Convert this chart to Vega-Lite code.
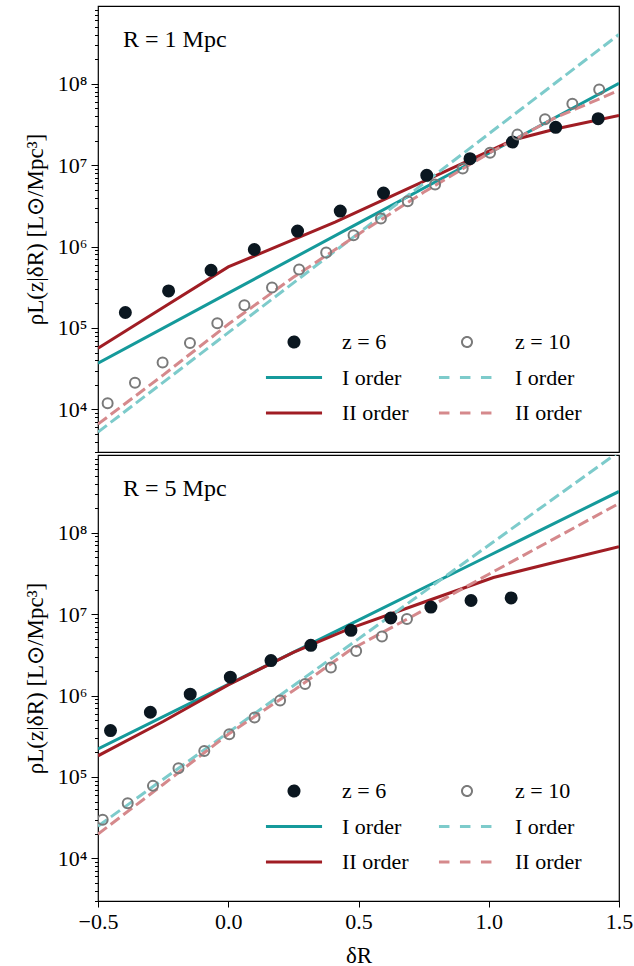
{
  "$schema": "https://vega.github.io/schema/vega-lite/v6.json",
  "padding": {"left": 23, "top": 5, "right": 5, "bottom": 5},
  "spacing": 0,
  "datasets": {
    "r1": [
      {"series": "z6", "delta": -0.395, "rho": 155000},
      {"series": "z6", "delta": -0.229, "rho": 285000},
      {"series": "z6", "delta": -0.066, "rho": 512000},
      {"series": "z6", "delta": 0.100, "rho": 920000},
      {"series": "z6", "delta": 0.266, "rho": 1550000},
      {"series": "z6", "delta": 0.430, "rho": 2730000},
      {"series": "z6", "delta": 0.596, "rho": 4550000},
      {"series": "z6", "delta": 0.762, "rho": 7500000},
      {"series": "z6", "delta": 0.928, "rho": 12000000},
      {"series": "z6", "delta": 1.091, "rho": 19200000},
      {"series": "z6", "delta": 1.257, "rho": 29100000},
      {"series": "z6", "delta": 1.420, "rho": 37200000},
      {"series": "z10", "delta": -0.463, "rho": 11900},
      {"series": "z10", "delta": -0.358, "rho": 21200},
      {"series": "z10", "delta": -0.252, "rho": 37800},
      {"series": "z10", "delta": -0.147, "rho": 65600},
      {"series": "z10", "delta": -0.042, "rho": 114000},
      {"series": "z10", "delta": 0.062, "rho": 190000},
      {"series": "z10", "delta": 0.168, "rho": 314000},
      {"series": "z10", "delta": 0.272, "rho": 522000},
      {"series": "z10", "delta": 0.376, "rho": 844000},
      {"series": "z10", "delta": 0.481, "rho": 1380000},
      {"series": "z10", "delta": 0.586, "rho": 2210000},
      {"series": "z10", "delta": 0.689, "rho": 3600000},
      {"series": "z10", "delta": 0.794, "rho": 5770000},
      {"series": "z10", "delta": 0.900, "rho": 9060000},
      {"series": "z10", "delta": 1.005, "rho": 14200000},
      {"series": "z10", "delta": 1.110, "rho": 23700000},
      {"series": "z10", "delta": 1.216, "rho": 36500000},
      {"series": "z10", "delta": 1.321, "rho": 56900000},
      {"series": "z10", "delta": 1.424, "rho": 85100000},
      {"series": "I_z6", "delta": -0.5, "rho": 37000},
      {"series": "I_z6", "delta": 0.0, "rho": 268000},
      {"series": "I_z6", "delta": 0.5, "rho": 1940000},
      {"series": "I_z6", "delta": 1.0, "rho": 14000000},
      {"series": "I_z6", "delta": 1.5, "rho": 101000000},
      {"series": "II_z6", "delta": -0.5, "rho": 56500},
      {"series": "II_z6", "delta": -0.25, "rho": 178000},
      {"series": "II_z6", "delta": 0.0, "rho": 562000},
      {"series": "II_z6", "delta": 0.41, "rho": 2000000},
      {"series": "II_z6", "delta": 0.75, "rho": 6300000},
      {"series": "II_z6", "delta": 1.09, "rho": 20200000},
      {"series": "II_z6", "delta": 1.26, "rho": 28000000},
      {"series": "II_z6", "delta": 1.5, "rho": 40800000},
      {"series": "I_z10", "delta": -0.5, "rho": 5270},
      {"series": "I_z10", "delta": 0.0, "rho": 87700},
      {"series": "I_z10", "delta": 0.5, "rho": 1460000},
      {"series": "I_z10", "delta": 1.0, "rho": 24200000},
      {"series": "I_z10", "delta": 1.5, "rho": 403000000},
      {"series": "II_z10", "delta": -0.5, "rho": 6600},
      {"series": "II_z10", "delta": -0.25, "rho": 26400},
      {"series": "II_z10", "delta": 0.0, "rho": 111000},
      {"series": "II_z10", "delta": 0.25, "rho": 420000},
      {"series": "II_z10", "delta": 0.5, "rho": 1420000},
      {"series": "II_z10", "delta": 0.75, "rho": 4640000},
      {"series": "II_z10", "delta": 1.0, "rho": 14000000},
      {"series": "II_z10", "delta": 1.25, "rho": 37500000},
      {"series": "II_z10", "delta": 1.5, "rho": 82800000}
    ],
    "r5": [
      {"series": "z6", "delta": -0.452, "rho": 372000},
      {"series": "z6", "delta": -0.299, "rho": 624000},
      {"series": "z6", "delta": -0.146, "rho": 1040000},
      {"series": "z6", "delta": 0.008, "rho": 1680000},
      {"series": "z6", "delta": 0.164, "rho": 2690000},
      {"series": "z6", "delta": 0.317, "rho": 4140000},
      {"series": "z6", "delta": 0.471, "rho": 6330000},
      {"series": "z6", "delta": 0.624, "rho": 8960000},
      {"series": "z6", "delta": 0.778, "rho": 12200000},
      {"series": "z6", "delta": 0.932, "rho": 14700000},
      {"series": "z6", "delta": 1.086, "rho": 15800000},
      {"series": "z10", "delta": -0.482, "rho": 29800},
      {"series": "z10", "delta": -0.386, "rho": 47700},
      {"series": "z10", "delta": -0.289, "rho": 77800},
      {"series": "z10", "delta": -0.191, "rho": 128000},
      {"series": "z10", "delta": -0.092, "rho": 209000},
      {"series": "z10", "delta": 0.004, "rho": 335000},
      {"series": "z10", "delta": 0.101, "rho": 537000},
      {"series": "z10", "delta": 0.199, "rho": 869000},
      {"series": "z10", "delta": 0.295, "rho": 1390000},
      {"series": "z10", "delta": 0.394, "rho": 2210000},
      {"series": "z10", "delta": 0.491, "rho": 3530000},
      {"series": "z10", "delta": 0.590, "rho": 5300000},
      {"series": "z10", "delta": 0.686, "rho": 8710000},
      {"series": "I_z6", "delta": -0.5, "rho": 221000},
      {"series": "I_z6", "delta": 0.0, "rho": 1370000},
      {"series": "I_z6", "delta": 0.5, "rho": 8430000},
      {"series": "I_z6", "delta": 1.0, "rho": 52100000},
      {"series": "I_z6", "delta": 1.5, "rho": 321000000},
      {"series": "II_z6", "delta": -0.5, "rho": 182000},
      {"series": "II_z6", "delta": -0.25, "rho": 480000},
      {"series": "II_z6", "delta": 0.0, "rho": 1350000},
      {"series": "II_z6", "delta": 0.25, "rho": 3400000},
      {"series": "II_z6", "delta": 0.468, "rho": 6680000},
      {"series": "II_z6", "delta": 0.75, "rho": 14000000},
      {"series": "II_z6", "delta": 1.018, "rho": 28200000},
      {"series": "II_z6", "delta": 1.25, "rho": 43100000},
      {"series": "II_z6", "delta": 1.5, "rho": 67300000},
      {"series": "I_z10", "delta": -0.5, "rho": 24900},
      {"series": "I_z10", "delta": 0.0, "rho": 352000},
      {"series": "I_z10", "delta": 0.5, "rho": 4970000},
      {"series": "I_z10", "delta": 1.0, "rho": 70200000},
      {"series": "I_z10", "delta": 1.5, "rho": 990000000},
      {"series": "II_z10", "delta": -0.5, "rho": 19900},
      {"series": "II_z10", "delta": -0.25, "rho": 81000},
      {"series": "II_z10", "delta": 0.0, "rho": 335000},
      {"series": "II_z10", "delta": 0.25, "rho": 1150000},
      {"series": "II_z10", "delta": 0.468, "rho": 3630000},
      {"series": "II_z10", "delta": 0.75, "rho": 11200000},
      {"series": "II_z10", "delta": 1.0, "rho": 30900000},
      {"series": "II_z10", "delta": 1.25, "rho": 84000000},
      {"series": "II_z10", "delta": 1.5, "rho": 229000000}
    ]
  },
  "vconcat": [
    {
      "width": 521,
      "height": 446,
      "title": {"text": "R = 1 Mpc", "frame": "group", "anchor": "start", "orient": "none", "offset": 0, "dx": 25, "dy": 41, "baseline": "alphabetic", "align": "left", "fontSize": 24, "fontWeight": "normal", "font": "Liberation Serif", "color": "black"},
      "data": {"name": "r1"},
      "encoding": {
        "x": {"field": "delta", "type": "quantitative", "scale": {"domain": [-0.5, 1.5], "nice": false, "zero": false}, "axis": null},
        "y": {"field": "rho", "type": "quantitative", "scale": {"type": "log", "domain": [3000, 900000000], "nice": false},
          "axis": {
            "title": "ρL(z|δR) [L⊙/Mpc³]",
            "values": [3000,4000,5000,6000,7000,8000,9000,10000,20000,30000,40000,50000,60000,70000,80000,90000,100000,200000,300000,400000,500000,600000,700000,800000,900000,1000000,2000000,3000000,4000000,5000000,6000000,7000000,8000000,9000000,10000000,20000000,30000000,40000000,50000000,60000000,70000000,80000000,90000000,100000000,200000000,300000000,400000000,500000000,600000000,700000000,800000000],
            "labelExpr": "abs(log(datum.value)/LN10 - round(log(datum.value)/LN10)) < 0.001 ? '10' + ['⁰','¹','²','³','⁴','⁵','⁶','⁷','⁸','⁹'][round(log(datum.value)/LN10)] : ''",
            "labelFontSize": {"condition": {"test": "abs(log(datum.value)/LN10 - round(log(datum.value)/LN10)) < 0.001", "value": 22}, "value": 0},
            "tickSize": {"condition": {"test": "abs(log(datum.value)/LN10 - round(log(datum.value)/LN10)) < 0.001", "value": 7}, "value": 3.5},
            "labelOverlap": false, "labelFlush": false, "labelPadding": 4, "titlePadding": 10
          }
        },
        "stroke": {"field": "series", "type": "nominal",
          "scale": {"domain": ["z6", "I_z6", "II_z6", "z10", "I_z10", "II_z10"], "range": ["#0b1720", "#159a9b", "#a01d24", "#7a7a7a", "#7dcbcb", "#d5898c"]},
          "legend": {
            "orient": "none", "legendX": 157, "legendY": 325, "title": null, "columns": 2,
            "labelExpr": "datum.value == 'z6' ? 'z = 6' : datum.value == 'z10' ? 'z = 10' : (indexof(datum.value, 'II') == 0 ? 'II order' : 'I order')",
            "labelFontSize": 22, "labelFont": "Liberation Serif", "labelColor": "black",
            "symbolSize": 121, "symbolOffset": 28, "labelOffset": 37,
            "columnPadding": 19, "rowPadding": 13.5, "padding": 0,
            "encode": {"symbols": {"update": {
              "shape": {"signal": "datum.value == 'z6' || datum.value == 'z10' ? 'circle' : 'M-5.1,0H5.1'"},
              "fill": {"signal": "datum.value == 'z6' ? '#0b1720' : 'transparent'"},
              "strokeWidth": {"signal": "datum.value == 'z6' || datum.value == 'z10' ? 2 : 3"},
              "strokeDash": {"signal": "indexof(datum.value, 'I_z10') >= 0 ? [10.5, 10.5] : [1, 0]"},
              "size": {"signal": "datum.value == 'z10' ? 100 : 121"},
              "opacity": {"value": 1}
            }}}
          }
        }
      },
      "layer": [
        {"transform": [{"filter": "datum.series == 'I_z6' || datum.series == 'II_z6'"}], "mark": {"type": "line", "strokeWidth": 3, "clip": true}},
        {"transform": [{"filter": "datum.series == 'I_z10' || datum.series == 'II_z10'"}], "mark": {"type": "line", "strokeWidth": 3, "strokeDash": [11.1, 4.8], "clip": true}},
        {"transform": [{"filter": "datum.series == 'z6' || datum.series == 'z10'"}], "mark": {"type": "point", "shape": "circle", "strokeWidth": 2, "opacity": 1, "clip": true},
          "encoding": {
            "fill": {"condition": {"test": "datum.series == 'z6'", "value": "#0b1720"}, "value": "transparent"},
            "size": {"condition": {"test": "datum.series == 'z6'", "value": 121}, "value": 100}
          }
        }
      ]
    },
    {
      "width": 521,
      "height": 446,
      "title": {"text": "R = 5 Mpc", "frame": "group", "anchor": "start", "orient": "none", "offset": 0, "dx": 25, "dy": 41, "baseline": "alphabetic", "align": "left", "fontSize": 24, "fontWeight": "normal", "font": "Liberation Serif", "color": "black"},
      "data": {"name": "r5"},
      "encoding": {
        "x": {"field": "delta", "type": "quantitative", "scale": {"domain": [-0.5, 1.5], "nice": false, "zero": false},
          "axis": {"values": [-0.5, 0, 0.5, 1, 1.5], "format": ".1f", "title": "δR", "tickSize": 6, "labelPadding": 4, "titlePadding": 12, "labelFlush": false}
        },
        "y": {"field": "rho", "type": "quantitative", "scale": {"type": "log", "domain": [3000, 900000000], "nice": false},
          "axis": {
            "title": "ρL(z|δR) [L⊙/Mpc³]",
            "values": [3000,4000,5000,6000,7000,8000,9000,10000,20000,30000,40000,50000,60000,70000,80000,90000,100000,200000,300000,400000,500000,600000,700000,800000,900000,1000000,2000000,3000000,4000000,5000000,6000000,7000000,8000000,9000000,10000000,20000000,30000000,40000000,50000000,60000000,70000000,80000000,90000000,100000000,200000000,300000000,400000000,500000000,600000000,700000000,800000000],
            "labelExpr": "abs(log(datum.value)/LN10 - round(log(datum.value)/LN10)) < 0.001 ? '10' + ['⁰','¹','²','³','⁴','⁵','⁶','⁷','⁸','⁹'][round(log(datum.value)/LN10)] : ''",
            "labelFontSize": {"condition": {"test": "abs(log(datum.value)/LN10 - round(log(datum.value)/LN10)) < 0.001", "value": 22}, "value": 0},
            "tickSize": {"condition": {"test": "abs(log(datum.value)/LN10 - round(log(datum.value)/LN10)) < 0.001", "value": 7}, "value": 3.5},
            "labelOverlap": false, "labelFlush": false, "labelPadding": 4, "titlePadding": 10
          }
        },
        "stroke": {"field": "series", "type": "nominal",
          "scale": {"domain": ["z6", "I_z6", "II_z6", "z10", "I_z10", "II_z10"], "range": ["#0b1720", "#159a9b", "#a01d24", "#7a7a7a", "#7dcbcb", "#d5898c"]},
          "legend": {
            "orient": "none", "legendX": 157, "legendY": 325, "title": null, "columns": 2,
            "labelExpr": "datum.value == 'z6' ? 'z = 6' : datum.value == 'z10' ? 'z = 10' : (indexof(datum.value, 'II') == 0 ? 'II order' : 'I order')",
            "labelFontSize": 22, "labelFont": "Liberation Serif", "labelColor": "black",
            "symbolSize": 121, "symbolOffset": 28, "labelOffset": 37,
            "columnPadding": 19, "rowPadding": 13.5, "padding": 0,
            "encode": {"symbols": {"update": {
              "shape": {"signal": "datum.value == 'z6' || datum.value == 'z10' ? 'circle' : 'M-5.1,0H5.1'"},
              "fill": {"signal": "datum.value == 'z6' ? '#0b1720' : 'transparent'"},
              "strokeWidth": {"signal": "datum.value == 'z6' || datum.value == 'z10' ? 2 : 3"},
              "strokeDash": {"signal": "indexof(datum.value, 'I_z10') >= 0 ? [10.5, 10.5] : [1, 0]"},
              "size": {"signal": "datum.value == 'z10' ? 100 : 121"},
              "opacity": {"value": 1}
            }}}
          }
        }
      },
      "layer": [
        {"transform": [{"filter": "datum.series == 'I_z6' || datum.series == 'II_z6'"}], "mark": {"type": "line", "strokeWidth": 3, "clip": true}},
        {"transform": [{"filter": "datum.series == 'I_z10' || datum.series == 'II_z10'"}], "mark": {"type": "line", "strokeWidth": 3, "strokeDash": [11.1, 4.8], "clip": true}},
        {"transform": [{"filter": "datum.series == 'z6' || datum.series == 'z10'"}], "mark": {"type": "point", "shape": "circle", "strokeWidth": 2, "opacity": 1, "clip": true},
          "encoding": {
            "fill": {"condition": {"test": "datum.series == 'z6'", "value": "#0b1720"}, "value": "transparent"},
            "size": {"condition": {"test": "datum.series == 'z6'", "value": 121}, "value": 100}
          }
        }
      ]
    }
  ],
  "resolve": {"scale": {"stroke": "independent"}, "legend": {"stroke": "independent"}},
  "config": {
    "font": "Liberation Serif",
    "view": {"stroke": "black", "strokeWidth": 1.2},
    "axis": {
      "labelFont": "Liberation Serif", "labelFontSize": 22, "labelColor": "black",
      "titleFont": "Liberation Serif", "titleFontSize": 23, "titleFontWeight": "normal", "titleColor": "black",
      "domain": false, "grid": false, "tickColor": "black", "tickWidth": 1
    }
  }
}
